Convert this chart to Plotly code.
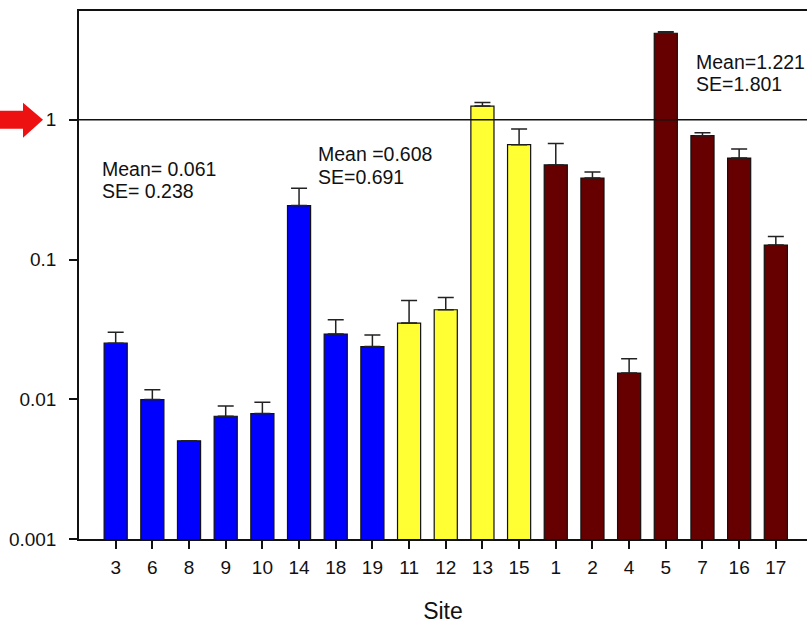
import plotly.graph_objects as go
import math

sites = ["3", "6", "8", "9", "10", "14", "18", "19", "11", "12", "13", "15", "1", "2", "4", "5", "7", "16", "17"]
group = ["low"] * 8 + ["mid"] * 4 + ["high"] * 7
means = [0.0252, 0.00995, 0.00504, 0.00756, 0.0079, 0.243, 0.0293, 0.0238,
         0.0351, 0.0437, 1.253, 0.663, 0.475, 0.383, 0.0154, 4.16, 0.769, 0.532, 0.127]
caps = [0.0301, 0.0117, None, 0.00896, 0.00952, 0.323, 0.0371, 0.0288,
        0.0509, 0.0535, 1.33, 0.858, 0.677, 0.423, 0.0195, 4.27, 0.807, 0.618, 0.146]
group_colors = {"low": "#0000FF", "mid": "#FFFF33", "high": "#660000"}

err_plus = [None if c is None else c - m for c, m in zip(caps, means)]
err_minus = [0 if c is not None else None for c in caps]
colors = [group_colors[g] for g in group]

FONT = "Liberation Sans, Arial, sans-serif"
Y_LOG_RANGE = [-3, math.log10(6)]

fig = go.Figure()
fig.add_trace(go.Bar(
    x=sites, y=means,
    width=0.63,
    marker=dict(color=colors, line=dict(color="#111111", width=1.2)),
    error_y=dict(type="data", symmetric=False, array=err_plus, arrayminus=err_minus,
                 color="#222222", thickness=1.5, width=8),
    showlegend=False,
))

# horizontal reference line at y = 1
y1_paper = (0 - Y_LOG_RANGE[0]) / (Y_LOG_RANGE[1] - Y_LOG_RANGE[0])
fig.add_shape(type="line", xref="paper", yref="paper", x0=0, x1=1, y0=y1_paper, y1=y1_paper,
              line=dict(color="#111111", width=1.5))

# red arrow pointing at y = 1 (pixel offsets from the left axis at y=1)
fig.add_shape(type="path", xref="paper", yref="paper",
              xsizemode="pixel", ysizemode="pixel", xanchor=0, yanchor=y1_paper,
              path="M -79 9 L -56 9 L -56 17 L -36 0 L -56 -18 L -56 -9 L -79 -9 Z",
              fillcolor="#EE1111", line=dict(color="#EE1111", width=0))

annots = [
    (-0.41, -0.35, "Mean= 0.061"), (-0.41, -0.507, "SE= 0.238"),
    (5.48, -0.243, "Mean =0.608"), (5.48, -0.407, "SE=0.691"),
    (15.8, 0.414, "Mean=1.221"), (15.8, 0.254, "SE=1.801"),
]
for ax_, ay_, t in annots:
    fig.add_annotation(x=ax_, y=ay_, xref="x", yref="y", text=t, showarrow=False,
                       xanchor="left", yanchor="middle", borderpad=0,
                       font=dict(family=FONT, size=19.5, color="#111111"))

fig.update_layout(
    width=807, height=624,
    margin=dict(l=79, r=0, t=11, b=85),
    paper_bgcolor="white", plot_bgcolor="white",
    font=dict(family=FONT, size=19, color="#111111"),
)
fig.update_xaxes(
    type="category", range=[-1, 18.85], automargin=False,
    showline=True, linecolor="#111111", linewidth=1.5, mirror=True,
    ticks="outside", ticklen=8, tickwidth=1.5, tickcolor="#111111",
    showgrid=False, zeroline=False,
    tickfont=dict(family=FONT, size=19), ticklabelstandoff=2,
    title=dict(text="Site", font=dict(family=FONT, size=23), standoff=30),
)
fig.update_yaxes(
    type="log", range=Y_LOG_RANGE, automargin=False,
    tickvals=[0.001, 0.01, 0.1, 1], ticktext=["0.001", "0.01", "0.1", "1"],
    showline=True, linecolor="#111111", linewidth=1.5,
    ticks="outside", ticklen=8, tickwidth=1.5, tickcolor="#111111",
    showgrid=False, zeroline=False,
    tickfont=dict(family=FONT, size=19),
    ticklabelstandoff=9,
)

fig.write_html("out.html", config={"displayModeBar": False},
               post_script="document.body.style.margin='0';document.body.style.overflow='hidden';")
